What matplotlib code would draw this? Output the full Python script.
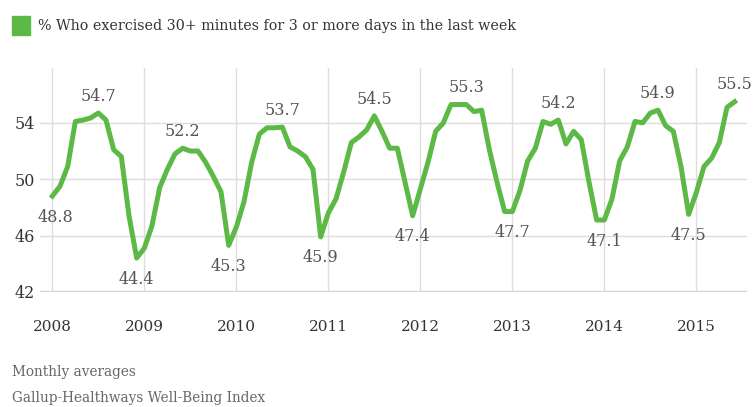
import numpy as np
import matplotlib.pyplot as plt

# monthly averages, Jan 2008 .. Jun 2015
pct_2008 = [48.8, 49.5, 50.9, 54.1, 54.2, 54.35, 54.7, 54.2, 52.1, 51.6, 47.4, 44.4]
pct_2009 = [45.1, 46.7, 49.4, 50.7, 51.8, 52.2, 52.0, 52.0, 51.2, 50.2, 49.1, 45.3]
pct_2010 = [46.6, 48.4, 51.2, 53.2, 53.65, 53.65, 53.7, 52.3, 52.0, 51.6, 50.7, 45.9]
pct_2011 = [47.6, 48.6, 50.5, 52.6, 53.0, 53.5, 54.5, 53.4, 52.2, 52.2, 49.8, 47.4]
pct_2012 = [49.3, 51.2, 53.4, 54.0, 55.3, 55.3, 55.3, 54.8, 54.9, 52.1, 49.8, 47.7]
pct_2013 = [47.7, 49.2, 51.3, 52.2, 54.1, 53.9, 54.2, 52.5, 53.4, 52.8, 49.8, 47.1]
pct_2014 = [47.1, 48.6, 51.3, 52.3, 54.1, 54.0, 54.7, 54.9, 53.8, 53.4, 50.9, 47.5]
pct_2015 = [49.05, 50.9, 51.5, 52.6, 55.1, 55.5]

years = [2008, 2009, 2010, 2011, 2012, 2013, 2014, 2015]
yticks = [42, 46, 50, 54]

# month index of each labelled point, and whether the label sits above
labelled = [(0, False), (6, True), (11, False), (17, True), (23, False),
            (30, True), (35, False), (42, True), (47, False), (54, True),
            (60, False), (66, True), (72, False), (79, True), (83, False),
            (89, True)]

pct = np.array(pct_2008 + pct_2009 + pct_2010 + pct_2011 + pct_2012
               + pct_2013 + pct_2014 + pct_2015)
months = np.arange(len(pct))

green = '#5cb946'
grey = '#555555'
plt.rcParams['font.family'] = ['DejaVu Serif']

fig = plt.figure(figsize=(7.56, 4.07), dpi=100)
ax = fig.add_axes([0.053, 0.283, 0.935, 0.55])

ax.plot(months, pct, color=green, lw=3.6, solid_joinstyle='round', zorder=3)

for i, above in labelled:
    dy = 6 if above else -9
    dx = 2 if i == 0 else 0
    ax.annotate(f'{pct[i]:.1f}', (months[i], pct[i]), xytext=(dx, dy),
                textcoords='offset points', ha='center',
                va='bottom' if above else 'top', fontsize=11.5, color=grey)

ax.set_xlim(-1.6, 90.6)
ax.set_ylim(42, 57.9)
ax.set_xticks([12 * (y - 2008) for y in years])
ax.set_xticklabels([str(y) for y in years])
ax.set_yticks(yticks)
ax.grid(True, color='#dddddd', lw=1)
ax.axhline(42, color='#d4d4d4', lw=2.5, zorder=2)
for s in ax.spines.values():
    s.set_visible(False)
ax.tick_params(length=0, labelsize=11, colors='#333333')
ax.tick_params(axis='x', pad=20)
ax.tick_params(axis='y', pad=4, labelsize=11.5)

# legend swatch and title line
fig.patches.append(plt.Rectangle((12 / 756, 1 - 35 / 407), 18 / 756, 19 / 407,
                                 transform=fig.transFigure, color=green))
fig.text(38 / 756, 1 - 26 / 407,
         '% Who exercised 30+ minutes for 3 or more days in the last week',
         fontsize=10.3, color='#333333', va='center')

fig.text(12 / 756, 1 - 372 / 407, 'Monthly averages', fontsize=9.8,
         color='#666666', va='center')
fig.text(12 / 756, 1 - 398 / 407, 'Gallup-Healthways Well-Being Index',
         fontsize=9.8, color='#666666', va='center')

fig.savefig('out.png', dpi=100)
